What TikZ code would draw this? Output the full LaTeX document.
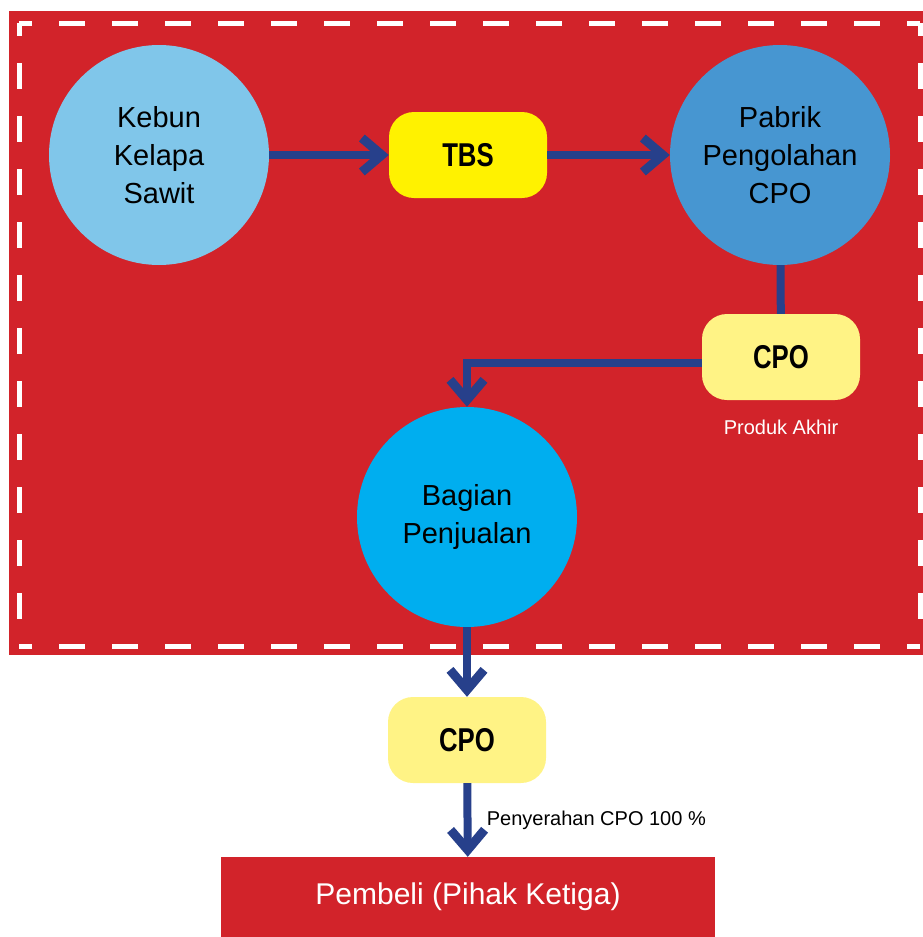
\documentclass[tikz,border=0pt]{standalone}
\usepackage{xcolor}
\usepackage{fontspec}
\setmainfont{Liberation Sans}
\newfontfamily\condbf[FakeStretch=0.78]{Liberation Sans Bold}
\usepackage{tikz}
\usetikzlibrary{positioning,arrows.meta}

\definecolor{merah}{HTML}{D2232A}
\definecolor{biru}{HTML}{27408B}
\definecolor{birumuda}{HTML}{80C6EA}
\definecolor{birusedang}{HTML}{4796D1}
\definecolor{birucerah}{HTML}{00AEEF}
\definecolor{kuning}{HTML}{FFF200}
\definecolor{kuningmuda}{HTML}{FFF385}

\begin{document}
\begin{tikzpicture}[x=1pt, y=-1pt,
        lingkaran/.style={circle, minimum size=220pt, inner sep=0pt, align=center, font=\fontsize{29}{38}\selectfont},
        kotak/.style={rounded corners=25pt, minimum width=158pt, minimum height=86pt, font=\condbf\fontsize{33}{36}\selectfont},
        garis/.style={draw=biru, line width=8pt},
        panah/.style={garis, -{Straight Barb[length=20pt, width=34pt, line width=9pt, sharp]}},
        putus/.style={white, line width=5pt, dash pattern=on 26pt off 27pt, dash phase=13pt},
        ket/.style={font=\fontsize{20}{24}\selectfont}]

        \useasboundingbox (0,0) rectangle (923,937);

        % latar merah dengan garis putus-putus
        \fill[merah] (9,11) rectangle (923,655);
        \coordinate (kiriatas) at (19,23);
        \coordinate (kiribawah) at (19,646);
        \coordinate (kananatas) at (920,23);
        \coordinate (kananbawah) at (920,646);
        \draw[putus] (kiriatas) -- (kananatas);
        \draw[putus] (kiribawah) -- (kananbawah);
        \draw[putus] (kiriatas) -- (kiribawah);
        \draw[putus] (kananatas) -- (kananbawah);

        \node (kebun) [lingkaran, fill=birumuda] at (159,155) {Kebun\\Kelapa\\Sawit};
        \node (tbs) [kotak, fill=kuning] at (468,155) {TBS};
        \node (pabrik) [lingkaran, fill=birusedang] at (780,155) {Pabrik\\Pengolahan\\CPO};
        \node (cpo1) [kotak, fill=kuningmuda] at (781,357) {CPO};
        \node (produk) [ket, text=white, below=16pt of cpo1] {Produk Akhir};
        \node (penjualan) [lingkaran, fill=birucerah] at (467,517) {Bagian\\Penjualan};
        \node (cpo2) [kotak, fill=kuningmuda] at (467,740) {CPO};
        \node (pembeli) [fill=merah, text=white, minimum width=494pt, minimum height=80pt, font=\fontsize{30}{36}\selectfont] at (468,897) {Pembeli (Pihak Ketiga)};

        \draw[panah] (kebun) -- (tbs);
        \draw[panah] (tbs) -- (pabrik);
        \draw[garis] (pabrik) -- (cpo1);
        \draw[panah] ([yshift=-6pt]cpo1.west) -| (penjualan);
        \draw[panah] (penjualan) -- (cpo2);
        \draw[panah] (cpo2) -- node[ket, right=12pt, pos=0.5] {Penyerahan CPO 100 \%} (pembeli);

    \end{tikzpicture}
\end{document}
